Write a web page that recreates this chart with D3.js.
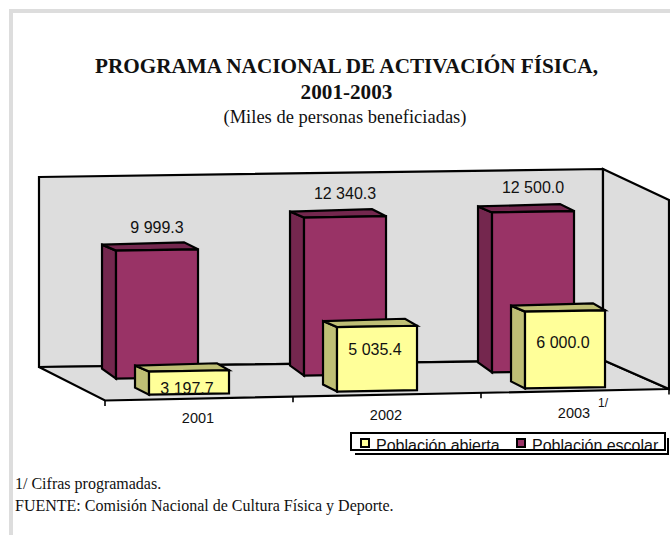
<!DOCTYPE html>
<html lang="es">
<head>
<meta charset="utf-8">
<title>Programa Nacional de Activación Física</title>
<script src="https://cdn.jsdelivr.net/npm/d3@7/dist/d3.min.js"></script>
<style>
html,body{margin:0;padding:0;background:#fff}
svg{display:block}
.sans{font-family:"Liberation Sans",Arial,sans-serif;fill:#111}
.serif{font-family:"Liberation Serif","Times New Roman",serif;fill:#111}
</style>
</head>
<body>
<svg id="chart" width="670" height="535"></svg>
<script>
const years = ["2001", "2002", "2003"];
const escolarValues = [9999.3, 12340.3, 12500.0];
const escolarLabels = ["9 999.3", "12 340.3", "12 500.0"];
// The first yellow box is drawn far shorter in the reference than its printed
// label (3 197.7): its height reads about 1 800 on the chart's scale.
const abiertaValues = [1800, 5035.4, 6000.0];
const abiertaLabels = ["3 197.7", "5 035.4", "6 000.0"];
const legendNames = ["Población abierta", "Población escolar"];

const svg = d3.select("#chart");
const INK = "#000", WALL = "#dddddd";

/* frame */
svg.append("rect").attr("x", 9).attr("y", 9).attr("width", 661).attr("height", 4).attr("fill", WALL);
svg.append("rect").attr("x", 9).attr("y", 9).attr("width", 4).attr("height", 526).attr("fill", WALL);

/* titles */
const center = 346.5;
svg.append("text").attr("class", "serif").attr("x", center).attr("y", 73).attr("text-anchor", "middle")
  .attr("font-size", 21.2).attr("font-weight", "bold").text("PROGRAMA NACIONAL DE ACTIVACIÓN FÍSICA,");
svg.append("text").attr("class", "serif").attr("x", center).attr("y", 99).attr("text-anchor", "middle")
  .attr("font-size", 21.2).attr("font-weight", "bold").text("2001-2003");
svg.append("text").attr("class", "serif").attr("x", 345).attr("y", 123).attr("text-anchor", "middle")
  .attr("font-size", 18.5).text("(Miles de personas beneficiadas)");

/* scales */
const axisLeft = 105, axisRight = 669;
const x = d3.scaleBand().domain(years).range([axisLeft, axisRight]).paddingInner(0.564).paddingOuter(0.282);
const h = d3.scaleLinear().domain([0, 12500]).range([0, 160]);
const axisY = d3.scaleLinear().domain([axisLeft, axisRight]).range([400.5, 389]);
const barFloor = d3.scaleLinear().domain([axisLeft, axisRight]).range([400.5, 391.2]);

/* box walls */
const poly = (pts, fill) => svg.append("polygon").attr("points", pts.map(p => p.join(",")).join(" "))
  .attr("fill", fill).attr("stroke", INK).attr("stroke-width", 2.2).attr("stroke-linejoin", "miter");
poly([[39,177],[603,169],[603,360],[39,367]], WALL);
poly([[39,367],[603,360],[669,389],[105,400.5]], WALL);
poly([[603,169],[669,200],[669,389],[603,360]], WALL);

/* axis ticks */
const tickXs = d3.range(4).map(i => axisLeft + x.step() * i);
svg.selectAll("line.tick").data(tickXs).join("line").attr("class", "tick")
  .attr("x1", d => d).attr("x2", d => d).attr("y1", d => axisY(d)).attr("y2", d => axisY(d) + 5.5)
  .attr("stroke", INK).attr("stroke-width", 1.6);

/* 3-D bars */
function drawBars(values, g) {
  values.forEach((v, i) => {
    const u = x(years[i]);
    const w0 = g.frontWidth, w1 = 82;
    const fx = u - g.shift, bx = fx - 14;
    const fy = barFloor(u) - g.rise, fyR = barFloor(u + w0) - g.rise;
    const byB = fy - g.backDrop;
    const H = h(v);
    const frontTL = [fx, fy - H], frontTR = [fx + w0, fyR - H],
          frontBR = [fx + w0, fyR], frontBL = [fx, fy];
    const backTL = [bx, fy - H - 6], backTR = [bx + w1, fyR - H - 7],
          backBL = [bx, byB];
    poly([backTL, frontTL, frontBL, backBL], g.side);
    poly([backTL, backTR, frontTR, frontTL], g.top);
    poly([frontTL, frontTR, frontBR, frontBL], g.front);
  });
}
drawBars(escolarValues, {shift: 42, rise: 21, frontWidth: 82, backDrop: 10, front: "#993366", side: "#74274e", top: "#74274e"});
drawBars(abiertaValues, {shift: 9, rise: 5, frontWidth: 80, backDrop: 7, front: "#ffff99", side: "#bfbf75", top: "#bfbf75"});

/* value labels */
const labelStyle = s => s.attr("class", "sans").attr("font-size", 16).attr("text-anchor", "middle");
svg.selectAll("text.esc").data(escolarLabels).join("text").call(labelStyle)
  .attr("x", (d, i) => x(years[i]) - 42 + 41)
  .attr("y", (d, i) => barFloor(x(years[i])) - 21 - h(escolarValues[i]) - 18 - i * 0.6)
  .text(d => d);
const abiertaNudge = [22, 28, 36];
svg.selectAll("text.abi").data(abiertaLabels).join("text").call(labelStyle)
  .attr("x", (d, i) => x(years[i]) - 9 + 38)
  .attr("y", (d, i) => barFloor(x(years[i])) - 5 - h(abiertaValues[i]) + abiertaNudge[i])
  .text(d => d);

/* category labels */
const catY = d3.scaleLinear().domain([197, 574]).range([423, 418]);
svg.selectAll("text.cat").data(years).join("text").attr("class", "sans")
  .attr("font-size", 14.5).attr("text-anchor", "middle")
  .attr("x", d => x(d) + x.bandwidth() / 2 - 1)
  .attr("y", d => catY(x(d) + x.bandwidth() / 2))
  .text(d => d);
svg.append("text").attr("class", "sans").attr("x", 598).attr("y", 407).attr("font-size", 12).text("1/");

/* legend */
const defs = svg.append("defs");
defs.append("clipPath").attr("id", "legendClip").append("rect").attr("x", 352).attr("y", 434).attr("width", 312).attr("height", 16);
svg.append("polyline").attr("points", "355,454 668,454 668,438").attr("fill", "none").attr("stroke", INK).attr("stroke-width", 2);
svg.append("rect").attr("x", 351).attr("y", 433).attr("width", 314).attr("height", 17).attr("fill", "#fff");
const legendItems = [{sx: 361, tx: 376, c: "#ffff99"}, {sx: 517, tx: 532, c: "#993366"}];
legendItems.forEach((it, i) => {
  svg.append("rect").attr("x", it.sx).attr("y", 439).attr("width", 8).attr("height", 8)
    .attr("fill", it.c).attr("stroke", INK).attr("stroke-width", 2);
  svg.append("text").attr("class", "sans").attr("clip-path", "url(#legendClip)")
    .attr("x", it.tx).attr("y", 451).attr("font-size", 16).text(legendNames[i]);
});
svg.append("rect").attr("x", 351).attr("y", 433).attr("width", 314).attr("height", 17)
  .attr("fill", "none").attr("stroke", INK).attr("stroke-width", 2);

/* footnotes */
svg.append("text").attr("class", "serif").attr("x", 15).attr("y", 489).attr("font-size", 16).text("1/ Cifras programadas.");
svg.append("text").attr("class", "serif").attr("x", 15).attr("y", 511).attr("font-size", 16).text("FUENTE: Comisión Nacional de Cultura Física y Deporte.");
</script>
</body>
</html>
